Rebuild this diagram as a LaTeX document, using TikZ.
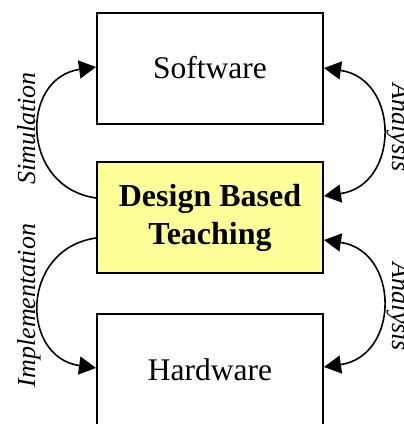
\documentclass[tikz,border=0pt]{standalone}
\usepackage{fontspec}
\setmainfont{Liberation Serif}
\usetikzlibrary{arrows.meta}
\definecolor{boxyellow}{HTML}{FFFF99}
\tikzset{
  blockbox/.style={draw=black, line width=2pt, minimum width=226pt, minimum height=111pt, inner sep=0pt, align=center,
    font=\fontsize{31.5}{38}\selectfont},
  tip/.tip={Triangle[length=17pt,width=18pt]},
  flow/.style={line width=1.6pt, -tip},
  bothflow/.style={line width=1.6pt, tip-tip},
  sidelabel/.style={anchor=base, inner sep=0pt, font=\fontsize{26}{30}\selectfont\itshape}
}
\begin{document}
\begin{tikzpicture}[x=1pt,y=-1pt]
\useasboundingbox (0,0) rectangle (404,424);
\clip (0,0) rectangle (404,424);
\node[blockbox] (sw) at (210,68) {Software};
\node[blockbox, fill=boxyellow, font=\fontsize{32}{38}\selectfont\bfseries] (dbt) at (210,217.5) {Design Based\\Teaching};
\node[blockbox] (hw) at (210,369.5) {Hardware};

\draw[flow] ([yshift=19.5pt]dbt.west) .. controls +(-76,-11) and +(-76,11) .. ([yshift=1pt]sw.west);
\draw[flow] ([yshift=-20.5pt]dbt.west) .. controls +(-76,11) and +(-76,-11) .. ([yshift=1.5pt]hw.west);
\draw[bothflow] (sw.east) .. controls +(76,11) and +(76,-11) .. ([yshift=21.5pt]dbt.east);
\draw[bothflow] ([yshift=-22.5pt]dbt.east) .. controls +(76,11) and +(76,-11) .. ([yshift=2.5pt]hw.east);

\node[sidelabel, rotate=90] (lsim) at (35,128.5) {Simulation};
\node[sidelabel, rotate=90] (limp) at (35,305.5) {Implementation};
\node[sidelabel, rotate=-90] (lan1) at (392,127.5) {Analysis};
\node[sidelabel, rotate=-90] (lan2) at (392,307) {Analysis};
\end{tikzpicture}
\end{document}
